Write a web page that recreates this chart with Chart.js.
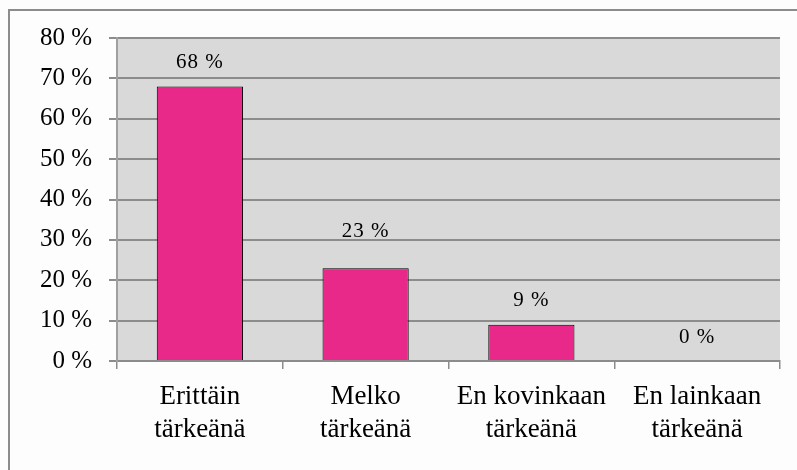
<!DOCTYPE html>
<html>
<head>
<meta charset="utf-8">
<script src="https://cdn.jsdelivr.net/npm/chart.js@4/dist/chart.umd.min.js"></script>
<style>
  html, body { margin: 0; padding: 0; background: #fdfdfd; }
  #wrap { width: 797px; height: 470px; }
</style>
</head>
<body>
<div id="wrap"><canvas id="importanceChart" width="797" height="470"></canvas></div>
<script>
// Survey answers: how important the respondents considered it
const categories = [
  ['Erittäin', 'tärkeänä'],
  ['Melko', 'tärkeänä'],
  ['En kovinkaan', 'tärkeänä'],
  ['En lainkaan', 'tärkeänä']
];
const shares = [68, 23, 9, 0];
const yTicks = [0, 10, 20, 30, 40, 50, 60, 70, 80];

const serif = '"Liberation Serif", "Times New Roman", serif';

// Grey plot background and the outer frame
const frameAndBackground = {
  id: 'frameAndBackground',
  beforeDraw(chart) {
    const { ctx, chartArea } = chart;
    ctx.save();
    ctx.fillStyle = '#d9d9d9';
    ctx.fillRect(chartArea.left, chartArea.top, chartArea.right - chartArea.left, chartArea.bottom - chartArea.top);
    ctx.strokeStyle = '#8c8c8c';
    ctx.lineWidth = 2;
    ctx.strokeRect(9, 10, chart.width + 10, chart.height + 10);
    ctx.restore();
  }
};

// Value labels above each bar (the second one sits a bit higher)
const valueLabels = {
  id: 'valueLabels',
  afterDatasetsDraw(chart) {
    const { ctx } = chart;
    const meta = chart.getDatasetMeta(0);
    ctx.save();
    ctx.font = '21px ' + serif;
    ctx.letterSpacing = '1px';
    ctx.fillStyle = '#000';
    ctx.textAlign = 'center';
    ctx.textBaseline = 'middle';
    meta.data.forEach((bar, i) => {
      const lift = i === 1 ? 37 : 24;
      ctx.fillText(shares[i] + ' %', bar.x, bar.y - lift);
    });
    ctx.restore();
  }
};

new Chart(document.getElementById('importanceChart').getContext('2d'), {
  type: 'bar',
  data: {
    labels: categories,
    datasets: [{
      data: shares,
      backgroundColor: '#e8298a',
      borderColor: '#000',
      borderWidth: 1,
      barPercentage: 0.52,
      categoryPercentage: 1
    }]
  },
  options: {
    responsive: false,
    animation: false,
    layout: { padding: { top: 38, right: 17, left: 0, bottom: 0 } },
    plugins: {
      legend: { display: false },
      tooltip: { enabled: false }
    },
    scales: {
      x: {
        grid: {
          drawOnChartArea: false,
          drawTicks: true,
          tickLength: 8,
          color: '#8c8c8c',
          lineWidth: 1.5
        },
        border: { color: '#8c8c8c', width: 2 },
        ticks: {
          color: '#000',
          font: { family: serif, size: 27 },
          padding: 12,
          maxRotation: 0,
          autoSkip: false
        },
        afterFit(scale) { scale.height = 109; }
      },
      y: {
        min: 0,
        max: 80,
        afterBuildTicks(scale) { scale.ticks = yTicks.map(v => ({ value: v })); },
        grid: {
          color: '#8c8c8c',
          lineWidth: 2,
          tickLength: 8
        },
        border: { color: '#a0a0a0', width: 2 },
        ticks: {
          color: '#000',
          font: { family: serif, size: 25 },
          padding: 17,
          callback: v => v + ' %'
        },
        afterFit(scale) { scale.width = 117; }
      }
    }
  },
  plugins: [frameAndBackground, valueLabels]
});
</script>
</body>
</html>
